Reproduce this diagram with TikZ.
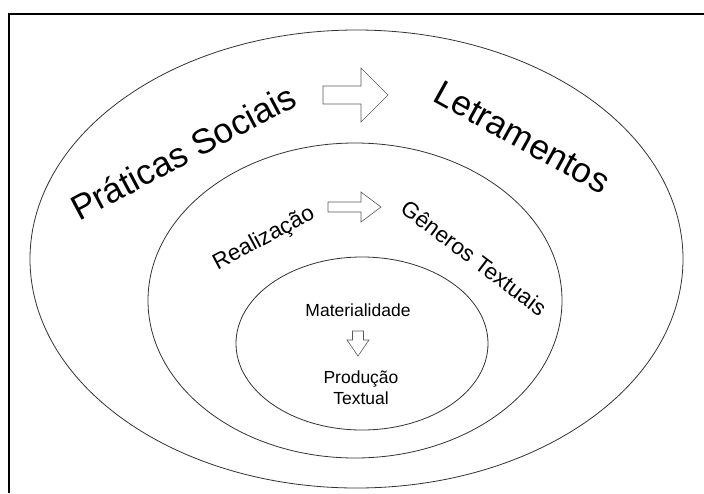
\documentclass[tikz,border=0pt]{standalone}
\usepackage{fontspec}
\setmainfont{Liberation Sans}
\usetikzlibrary{shapes.geometric}
\tikzset{
  ring/.style={draw=black!80, line width=0.8pt, ellipse, inner sep=0pt},
  bigword/.style={font=\fontsize{35}{40}\selectfont, inner sep=0pt},
  midword/.style={font=\fontsize{22.5}{26}\selectfont, inner sep=0pt},
  smallword/.style={font=\fontsize{17.5}{21}\selectfont, inner sep=0pt, align=center},
  blockarrow/.style={draw=black!65, line width=0.6pt, fill=white, line join=miter}
}
\begin{document}
\begin{tikzpicture}[x=1pt,y=-1pt]
\useasboundingbox (0,0) rectangle (704,493);
\draw[line width=1.2pt] (704,14) -- (9,14) -- (9,493);
\node[ring, minimum width=653pt, minimum height=458pt] (outer) at (356.5,259){};
\node[ring, minimum width=414pt, minimum height=315pt] (middle) at (355,300.5){};
\node[ring, minimum width=252pt, minimum height=173pt] (inner) at (362,343.5){};
\node[bigword, rotate=28] (praticas) at (183,152) {Práticas Sociais};
\node[bigword, rotate=-29] (letramentos) at (522,137) {Letramentos};
\node[midword, rotate=28] (realizacao) at (264,239) {Realização};
\node[midword, rotate=-37] (generos) at (474,258) {Gêneros Textuais};
\node[smallword] (materialidade) at (358,310) {Materialidade};
\node[smallword] (producao) at (361,388) {Produção\\Textual};
\draw[blockarrow] (323,86) -- (361,86) -- (361,68) -- (388,95) -- (361,122) -- (361,104) -- (323,104) -- cycle;
\draw[blockarrow] (328,202) -- (361,202) -- (361,192) -- (381,207) -- (361,222) -- (361,212) -- (328,212) -- cycle;
\draw[blockarrow] (352.5,331) -- (352.5,340) -- (347,340) -- (358,356) -- (369,340) -- (363.5,340) -- (363.5,331) -- cycle;

\end{tikzpicture}
\end{document}
